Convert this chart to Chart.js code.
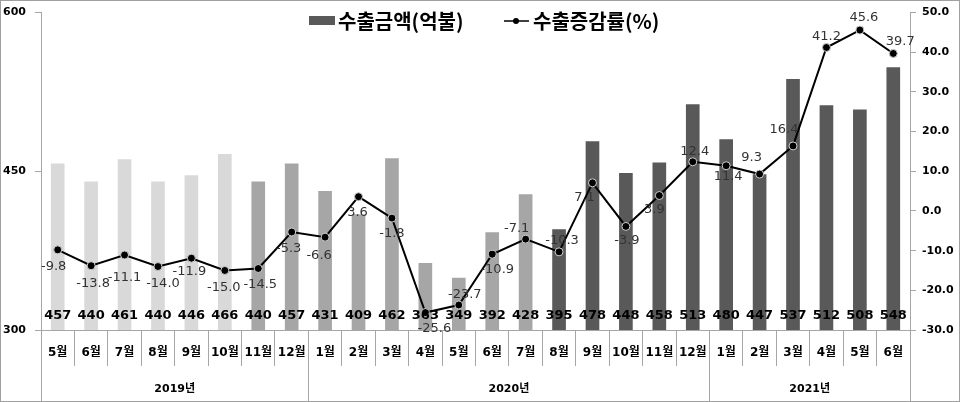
<!DOCTYPE html>
<html>
<head>
<meta charset="utf-8">
<script src="https://cdn.jsdelivr.net/npm/chart.js@4.4.1/dist/chart.umd.min.js"></script>
<style>
  html, body { margin: 0; padding: 0; background: #fff; }
  #wrap { width: 960px; height: 402px; }
</style>
</head>
<body>
<div id="wrap"><canvas id="c" width="960" height="402"></canvas></div>
<script>
// categories
const months = ['5월', '6월', '7월', '8월', '9월', '10월', '11월', '12월',
  '1월', '2월', '3월', '4월', '5월', '6월', '7월', '8월', '9월', '10월', '11월', '12월',
  '1월', '2월', '3월', '4월', '5월', '6월'];
const yearLabels = ['2019년', '2020년', '2021년'];
const yearCounts = [8, 12, 6];

// series
const exportAmount = [457, 440, 461, 440, 446, 466, 440, 457,
  431, 409, 462, 363, 349, 392, 428, 395, 478, 448, 458, 513,
  480, 447, 537, 512, 508, 548];
const exportGrowth = [-9.8, -13.8, -11.1, -14.0, -11.9, -15.0, -14.5, -5.3,
  -6.6, 3.6, -1.8, -25.6, -23.7, -10.9, -7.1, -10.3, 7.1, -3.9, 3.9, 12.4,
  11.4, 9.3, 16.4, 41.2, 45.6, 39.7];

// label nudges for the growth line (px, relative to the point)
const growthDx = [-4, 2, 0, 5, -2, -1, 2, -3, -6, -1, 0, 9, 6, 5, -9, 3, -8, 1, -5, 2, 2, -8, -9, 0, 4, 7];
const growthDy = [17, 18, 23, 17, 13, 17, 16, 17, 18, 16, 16, 16, -10, 15, -11, -11, 15, 14, 14, -10, 11, -16, -16, -11, -12, -12];

const LIGHT = '#d9d9d9', MID = '#a6a6a6', DARK = '#595959';
const AXIS = '#a6a6a6';
const NUM_FONT = '"DejaVu Sans", "Noto Sans CJK KR", sans-serif';
const KR_FONT = '"Noto Sans CJK KR", sans-serif';

function barShade(i) {
  if (i < 6) return LIGHT;
  if (i < 15) return MID;
  return DARK;
}

const decor = {
  id: 'decor',
  afterDatasetsDraw(chart) {
    const ctx = chart.ctx;
    const area = chart.chartArea;
    const bars = chart.getDatasetMeta(1).data;
    const pts = chart.getDatasetMeta(0).data;
    ctx.save();
    ctx.textAlign = 'center';
    ctx.textBaseline = 'middle';
    ctx.fillStyle = '#000';
    ctx.font = 'bold 13px ' + NUM_FONT;
    bars.forEach((b, i) => ctx.fillText(String(exportAmount[i]), b.x, area.bottom - 14));

    ctx.fillStyle = '#333';
    ctx.font = '13px ' + NUM_FONT;
    pts.forEach((p, i) => ctx.fillText(exportGrowth[i].toFixed(1), p.x + growthDx[i], p.y + growthDy[i]));

    // legend
    ctx.textAlign = 'left';
    ctx.fillStyle = DARK;
    ctx.fillRect(309, 16, 26, 9);
    ctx.fillStyle = '#000';
    ctx.font = 'bold 20px ' + KR_FONT;
    ctx.fillText(chart.data.datasets[1].label, 338, 21);
    ctx.strokeStyle = '#000';
    ctx.lineWidth = 1.5;
    ctx.beginPath();
    ctx.moveTo(504, 21); ctx.lineTo(529, 21);
    ctx.stroke();
    ctx.beginPath();
    ctx.arc(516, 21, 3, 0, Math.PI * 2);
    ctx.fill();
    ctx.fillText(chart.data.datasets[0].label, 533, 21);
    ctx.restore();
  },
  afterDraw(chart) {
    const ctx = chart.ctx;
    const area = chart.chartArea;
    const H = chart.height;
    const step = (area.right - area.left) / months.length;
    ctx.save();
    ctx.strokeStyle = AXIS;
    ctx.lineWidth = 1;
    // year separators (full height of the category area)
    let idx = 0;
    const edges = [0];
    yearCounts.forEach(n => { idx += n; edges.push(idx); });
    ctx.beginPath();
    edges.forEach(e => {
      const px = Math.round(area.left + e * step) + 0.5;
      ctx.moveTo(px, area.bottom);
      ctx.lineTo(px, H);
    });
    ctx.stroke();
    // year labels
    ctx.fillStyle = '#000';
    ctx.font = 'bold 11px ' + NUM_FONT;
    ctx.textAlign = 'center';
    ctx.textBaseline = 'middle';
    yearLabels.forEach((lab, k) => {
      const cx = area.left + (edges[k] + edges[k + 1]) / 2 * step;
      ctx.fillText(lab, cx, 389);
    });
    // outer frame
    ctx.strokeStyle = '#a0a0a0';
    ctx.strokeRect(0.5, 0.5, chart.width - 1, H - 1);
    ctx.restore();
  }
};

new Chart(document.getElementById('c').getContext('2d'), {
  data: {
    labels: months,
    datasets: [
      {
        type: 'line',
        label: '수출증감률(%)',
        data: exportGrowth,
        yAxisID: 'yR',
        borderColor: '#000',
        borderWidth: 2,
        pointRadius: 4,
        pointBackgroundColor: '#000',
        pointBorderColor: '#d0d0d0',
        pointBorderWidth: 1,
        tension: 0,
        order: 0
      },
      {
        type: 'bar',
        label: '수출금액(억불)',
        data: exportAmount,
        yAxisID: 'yL',
        backgroundColor: c => barShade(c.dataIndex),
        barThickness: 13,
        order: 1
      }
    ]
  },
  options: {
    responsive: false,
    animation: false,
    layout: { autoPadding: false, padding: { top: 10, left: 3, right: 0, bottom: 0 } },
    plugins: { legend: { display: false }, tooltip: { enabled: false } },
    scales: {
      x: {
        offset: true,
        grid: { offset: true, drawOnChartArea: false, tickLength: 36, color: AXIS },
        border: { color: AXIS },
        ticks: {
          color: '#000',
          font: { family: NUM_FONT, size: 12, weight: 'bold' },
          padding: -20,
          maxRotation: 0,
          autoSkip: false
        },
        afterFit: s => { s.height = 72; }
      },
      yL: {
        position: 'left',
        min: 300,
        max: 600,
        ticks: {
          stepSize: 150,
          color: '#000',
          crossAlign: 'far',
          font: { family: NUM_FONT, size: 11, weight: 'bold' }
        },
        grid: { drawOnChartArea: false, tickLength: 6, color: AXIS },
        border: { color: AXIS },
        afterFit: s => { s.width = 38; }
      },
      yR: {
        position: 'right',
        min: -30,
        max: 50,
        ticks: {
          stepSize: 10,
          color: '#000',
          padding: 6,
          font: { family: NUM_FONT, size: 11, weight: 'bold' },
          callback: v => Number(v).toFixed(1)
        },
        grid: { drawOnChartArea: false, tickLength: 6, color: AXIS },
        border: { color: AXIS },
        afterFit: s => { s.width = 50; }
      }
    }
  },
  plugins: [decor]
});
</script>
</body>
</html>
